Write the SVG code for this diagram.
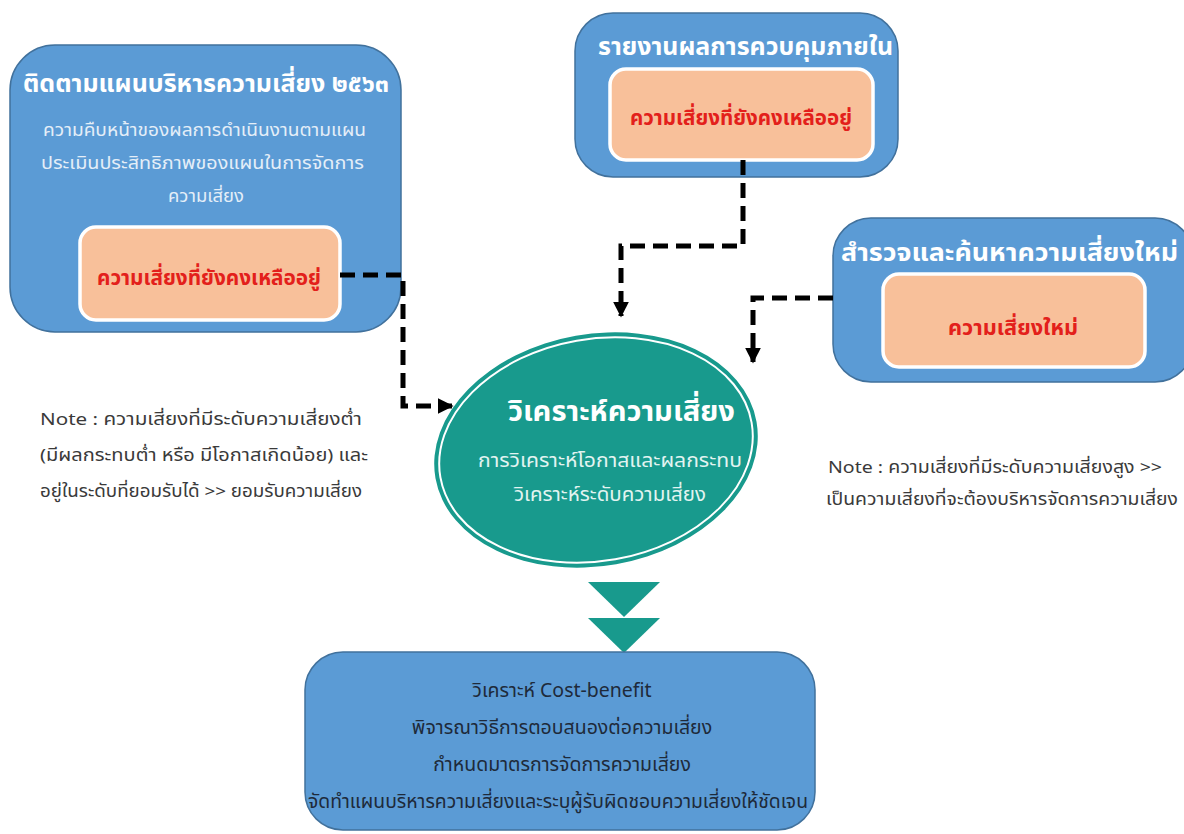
<svg xmlns="http://www.w3.org/2000/svg" width="1184" height="834" viewBox="0 0 1184 834">
<defs>
<style>
.box{fill:#5B9BD5;stroke:#41719C;stroke-width:1.5}
.inner{fill:#F8C09A;stroke:#FFFFFF;stroke-width:3.5}
text{font-family:"Noto Sans Thai","Noto Sans","DejaVu Sans",sans-serif}
.title{fill:#FFFFFF;font-weight:bold;font-size:25px}
.sub{fill:#E4EEF8;font-size:17px}
.red{fill:#E3201B;font-weight:bold;font-size:21px}
.note{fill:#3A3A3A;font-size:17px}
.bot{fill:#1E2A3A;font-size:19.5px;text-anchor:middle}
.dash{fill:none;stroke:#000;stroke-width:5;stroke-dasharray:15 8}
</style>
<marker id="ah" viewBox="0 0 10 10" refX="9" refY="5" markerWidth="3.2" markerHeight="3.2" orient="auto" markerUnits="strokeWidth">
<path d="M0,0 L10,5 L0,10 z" fill="#000"/>
</marker>
</defs>
<rect width="1184" height="834" fill="#FFFFFF"/>

<g id="box-follow">
<rect class="box" x="10" y="45" width="391" height="287" rx="45"/>
<text class="title" x="23" y="92" textLength="366" lengthAdjust="spacingAndGlyphs">ติดตามแผนบริหารความเสี่ยง ๒๕๖๓</text>
<text class="sub" x="43" y="136" textLength="323" lengthAdjust="spacingAndGlyphs">ความคืบหน้าของผลการดำเนินงานตามแผน</text>
<text class="sub" x="41" y="169" textLength="323" lengthAdjust="spacingAndGlyphs">ประเมินประสิทธิภาพของแผนในการจัดการ</text>
<text class="sub" x="168" y="202" textLength="76" lengthAdjust="spacingAndGlyphs">ความเสี่ยง</text>
<rect class="inner" x="80" y="227" width="260" height="93" rx="16"/>
<text class="red" x="97" y="285" textLength="224" lengthAdjust="spacingAndGlyphs">ความเสี่ยงที่ยังคงเหลืออยู่</text>
</g>

<g id="box-control">
<rect class="box" x="575" y="13" width="323" height="164" rx="38"/>
<text class="title" x="598" y="55" textLength="295" lengthAdjust="spacingAndGlyphs">รายงานผลการควบคุมภายใน</text>
<rect class="inner" x="610" y="69" width="263" height="91" rx="16"/>
<text class="red" x="630" y="125" textLength="222" lengthAdjust="spacingAndGlyphs">ความเสี่ยงที่ยังคงเหลืออยู่</text>
</g>

<g id="box-new">
<rect class="box" x="833" y="218" width="360" height="164" rx="38"/>
<text class="title" x="841" y="261" textLength="337" lengthAdjust="spacingAndGlyphs">สำรวจและค้นหาความเสี่ยงใหม่</text>
<rect class="inner" x="883" y="274" width="262" height="93" rx="16"/>
<text class="red" x="948" y="335" textLength="130" lengthAdjust="spacingAndGlyphs">ความเสี่ยงใหม่</text>
</g>

<g id="analysis">
<g transform="rotate(-10 596 450)">
<ellipse cx="596" cy="450" rx="163" ry="116" fill="#189A8D"/>
<ellipse cx="596" cy="450" rx="158" ry="111" fill="#189A8D" stroke="#FFFFFF" stroke-width="2"/>
</g>
<text x="508" y="421" fill="#FFFFFF" font-weight="bold" font-size="29" textLength="227" lengthAdjust="spacingAndGlyphs">วิเคราะห์ความเสี่ยง</text>
<text x="478" y="467" fill="#E2F4F1" font-size="19" textLength="264" lengthAdjust="spacingAndGlyphs">การวิเคราะห์โอกาสและผลกระทบ</text>
<text x="514" y="501" fill="#E2F4F1" font-size="19" textLength="192" lengthAdjust="spacingAndGlyphs">วิเคราะห์ระดับความเสี่ยง</text>
</g>

<g id="note-left">
<text class="note" x="40" y="425" textLength="322" lengthAdjust="spacingAndGlyphs">Note : ความเสี่ยงที่มีระดับความเสี่ยงต่ำ</text>
<text class="note" x="40" y="461" textLength="328" lengthAdjust="spacingAndGlyphs">(มีผลกระทบต่ำ หรือ มีโอกาสเกิดน้อย) และ</text>
<text class="note" x="40" y="497" textLength="322" lengthAdjust="spacingAndGlyphs">อยู่ในระดับที่ยอมรับได้  &gt;&gt; ยอมรับความเสี่ยง</text>
</g>

<g id="note-right">
<text class="note" x="828" y="473" textLength="334" lengthAdjust="spacingAndGlyphs">Note : ความเสี่ยงที่มีระดับความเสี่ยงสูง  &gt;&gt;</text>
<text class="note" x="826" y="505" textLength="352" lengthAdjust="spacingAndGlyphs">เป็นความเสี่ยงที่จะต้องบริหารจัดการความเสี่ยง</text>
</g>

<g id="down-arrows" fill="#189A8D">
<polygon points="588,582 660,582 624,617"/>
<polygon points="588,618 660,618 624,653"/>
</g>

<g id="box-response">
<rect class="box" x="305" y="652" width="510" height="178" rx="38"/>
<text class="bot" x="562" y="697">วิเคราะห์ Cost-benefit</text>
<text class="bot" x="562" y="734">พิจารณาวิธีการตอบสนองต่อความเสี่ยง</text>
<text class="bot" x="562" y="771">กำหนดมาตรการจัดการความเสี่ยง</text>
<text class="bot" x="558" y="808" textLength="500" lengthAdjust="spacingAndGlyphs">จัดทำแผนบริหารความเสี่ยงและระบุผู้รับผิดชอบความเสี่ยงให้ชัดเจน</text>
</g>

<g id="connectors">
<path class="dash" d="M340,275 H403 V406 H452" marker-end="url(#ah)"/>
<path class="dash" d="M743,160 V246 H621 V316" marker-end="url(#ah)"/>
<path class="dash" d="M833,298 H753 V362" marker-end="url(#ah)"/>
</g>
</svg>
